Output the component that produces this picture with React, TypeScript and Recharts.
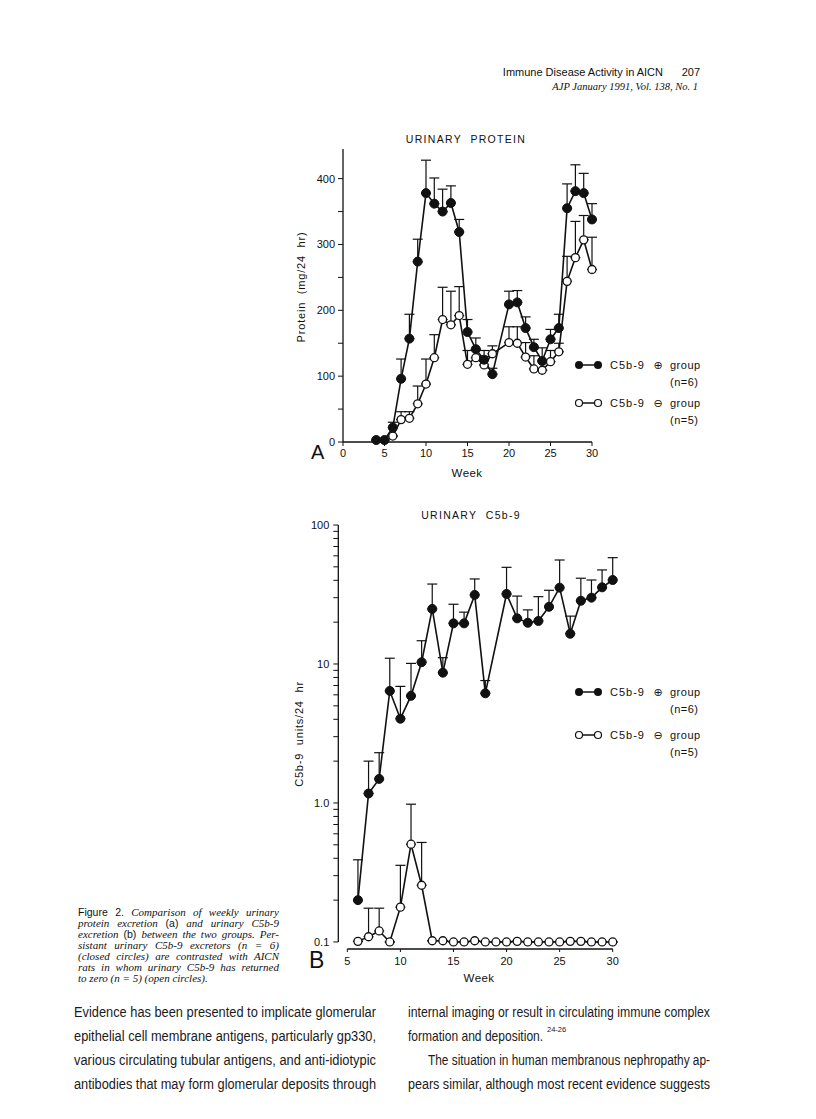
import React from 'react';
import { LineChart, Line, XAxis, YAxis, ErrorBar, ReferenceLine } from 'recharts';

// (A) urinary protein, mg/24 hr — mean and top of the SE bar
const proteinPosWeeks = [4, 5, 6, 7, 8, 9, 10, 11, 12, 13, 14, 15, 16, 17, 18, 20, 21, 22, 23, 24, 25, 26, 27, 28, 29, 30];
const proteinPos = [3, 3, 22, 96, 157, 274, 378, 362, 350, 363, 319, 167, 141, 125, 103, 209, 212, 173, 144, 123, 156, 173, 355, 381, 378, 338];
const proteinPosTop = [3, 3, 30, 126, 194, 308, 428, 401, 384, 389, 338, 186, 158, 139, 112, 229, 230, 190, 156, 143, 171, 194, 392, 421, 408, 362];

const proteinNegWeeks = [6, 7, 8, 9, 10, 11, 12, 13, 14, 15, 16, 17, 18, 20, 21, 22, 23, 24, 25, 26, 27, 28, 29, 30];
const proteinNeg = [9, 34, 36, 58, 88, 128, 186, 178, 192, 118, 128, 117, 134, 151, 150, 129, 111, 109, 122, 137, 244, 280, 307, 262];
const proteinNegTop = [9, 46, 46, 85, 126, 163, 235, 229, 236, 139, 140, 130, 146, 175, 175, 151, 131, 109, 139, 150, 282, 335, 344, 311];

// (B) urinary C5b-9, units/24 hr (log scale)
const c5bPosWeeks = [6, 7, 8, 9, 10, 11, 12, 13, 14, 15, 16, 17, 18, 20, 21, 22, 23, 24, 25, 26, 27, 28, 29, 30];
const c5bPos = [0.2, 1.17, 1.49, 6.4, 4.04, 5.9, 10.3, 24.9, 8.66, 19.6, 19.6, 31.4, 6.15, 31.9, 21.3, 19.8, 20.4, 25.8, 35.4, 16.5, 28.5, 30, 35.6, 40.2];
const c5bPosTop = [0.39, 2.0, 2.3, 11, 6.9, 10.1, 14.7, 37.6, 11.1, 26.9, 23.6, 40.9, 7.6, 49.6, 30.8, 24.5, 30.5, 33.9, 56, 22.1, 41.4, 40.2, 47.5, 58.2];

const c5bNegWeeks = [6, 7, 8, 9, 10, 11, 12, 13, 14, 15, 16, 17, 18, 19, 20, 21, 22, 23, 24, 25, 26, 27, 28, 29, 30];
const c5bNeg = [0.101, 0.109, 0.12, 0.1, 0.178, 0.505, 0.256, 0.102, 0.102, 0.1, 0.1, 0.102, 0.1, 0.1, 0.1, 0.101, 0.1, 0.1, 0.1, 0.1, 0.101, 0.101, 0.1, 0.1, 0.1];
const c5bNegTop = [0.101, 0.175, 0.175, 0.1, 0.356, 0.98, 0.52, 0.102, 0.102, 0.1, 0.1, 0.102, 0.1, 0.1, 0.1, 0.101, 0.1, 0.1, 0.1, 0.1, 0.101, 0.101, 0.1, 0.1, 0.1];

const weekTicksA = [0, 5, 10, 15, 20, 25, 30];
const weekTicksB = [5, 10, 15, 20, 25, 30];
const proteinTicks = [0, 50, 100, 150, 200, 250, 300, 350, 400];
const c5bTicks = [
  0.1, 0.2, 0.3, 0.4, 0.5, 0.6, 0.7, 0.8, 0.9,
  1, 2, 3, 4, 5, 6, 7, 8, 9,
  10, 20, 30, 40, 50, 60, 70, 80, 90, 100,
];
const c5bTickLabels: Record<number, string> = { 0.1: '0.1', 1: '1.0', 10: '10', 100: '100' };

const bodyLeft = [
  'Evidence has been presented to implicate glomerular',
  'epithelial cell membrane antigens, particularly gp330,',
  'various circulating tubular antigens, and anti-idiotypic',
  'antibodies that may form glomerular deposits through',
];

const toRows = (weeks: number[], vals: number[], tops: number[]) =>
  weeks.map((w, i) => ({ week: w, v: vals[i], err: [0, Math.max(0, tops[i] - vals[i])] }));

const INK = '#111';
const SANS = '"Liberation Sans", Arial, Helvetica, sans-serif';
const SERIF = '"Liberation Serif", "Times New Roman", serif';

const tickStyle = { fontSize: 11, fill: INK, fontFamily: SANS };
const closedDot = { r: 4.5, fill: INK, stroke: INK, strokeWidth: 1 };
const openDot = { r: 4, fill: '#fff', stroke: INK, strokeWidth: 1.3 };

type TxtProps = {
  x: number;
  y: number;
  align?: 'left' | 'center' | 'right';
  size?: number;
  rotate?: boolean;
  style?: React.CSSProperties;
  children: React.ReactNode;
};

function Txt({ x, y, align = 'left', size = 11, rotate = false, style, children }: TxtProps) {
  const tx = align === 'center' ? '-50%' : align === 'right' ? '-100%' : '0';
  return (
    <div
      style={{
        position: 'absolute',
        left: x,
        top: y,
        fontSize: size,
        lineHeight: 1,
        whiteSpace: 'nowrap',
        transform: `translate(${tx}, -50%)${rotate ? ' rotate(-90deg)' : ''}`,
        ...style,
      }}
    >
      {children}
    </div>
  );
}

function LegendRow({ y, filled, n }: { y: number; filled: boolean; n: number }) {
  return (
    <>
      <svg style={{ position: 'absolute', left: 572, top: y - 7 }} width={32} height={14}>
        <line x1={7} y1={7} x2={26} y2={7} stroke={INK} strokeWidth={1.5} />
        {filled ? (
          <>
            <circle cx={7} cy={7} r={4} fill={INK} />
            <circle cx={26} cy={7} r={4} fill={INK} />
          </>
        ) : (
          <>
            <circle cx={7} cy={7} r={3.5} fill="#fff" stroke={INK} strokeWidth={1.2} />
            <circle cx={26} cy={7} r={3.5} fill="#fff" stroke={INK} strokeWidth={1.2} />
          </>
        )}
      </svg>
      <Txt x={610} y={y} style={{ letterSpacing: 1 }}>C5b-9</Txt>
      <Txt x={658} y={y} align="center" size={11} style={{ fontFamily: '"DejaVu Sans", sans-serif' }}>
        {filled ? '⊕' : '⊖'}
      </Txt>
      <Txt x={670} y={y} style={{ letterSpacing: 0.5 }}>group</Txt>
      <Txt x={670} y={y + 17} style={{ letterSpacing: 0.5 }}>(n={n})</Txt>
    </>
  );
}

function ProteinChart() {
  const pos = toRows(proteinPosWeeks, proteinPos, proteinPosTop);
  const neg = toRows(proteinNegWeeks, proteinNeg, proteinNegTop);
  return (
    <div style={{ position: 'absolute', left: 250, top: 100 }}>
      <LineChart width={400} height={400} margin={{ top: 49, right: 58, bottom: 28, left: 33 }}>
        <XAxis
          dataKey="week"
          type="number"
          domain={[0, 30]}
          ticks={weekTicksA}
          interval={0}
          height={30}
          tickSize={4}
          tickMargin={3}
          tick={tickStyle}
          axisLine={{ stroke: INK, strokeWidth: 1.3 }}
          tickLine={{ stroke: INK }}
        />
        <YAxis
          type="number"
          domain={[0, 445]}
          ticks={proteinTicks}
          interval={0}
          width={60}
          tickSize={5}
          tickMargin={3}
          tick={tickStyle}
          tickFormatter={(v: number) => (v % 100 === 0 ? String(v) : '')}
          axisLine={{ stroke: INK, strokeWidth: 1.3 }}
          tickLine={{ stroke: INK }}
        />
        <Line data={neg} dataKey="v" stroke={INK} strokeWidth={1.6} dot={openDot} isAnimationActive={false}>
          <ErrorBar dataKey="err" direction="y" width={5} stroke={INK} strokeWidth={1.2} />
        </Line>
        <Line data={pos} dataKey="v" stroke={INK} strokeWidth={1.6} dot={closedDot} isAnimationActive={false}>
          <ErrorBar dataKey="err" direction="y" width={5} stroke={INK} strokeWidth={1.2} />
        </Line>
      </LineChart>
    </div>
  );
}

function C5bChart() {
  const pos = toRows(c5bPosWeeks, c5bPos, c5bPosTop);
  const neg = toRows(c5bNegWeeks, c5bNeg, c5bNegTop);
  const xMin = 4.15;
  const yMin = 0.089;
  return (
    <div style={{ position: 'absolute', left: 250, top: 480 }}>
      <LineChart width={420} height={520} margin={{ top: 45, right: 57.3, bottom: 21, left: 28.3 }}>
        <XAxis
          dataKey="week"
          type="number"
          domain={[xMin, 30]}
          ticks={weekTicksB}
          interval={0}
          height={30}
          tickSize={3}
          tickMargin={5}
          tick={tickStyle}
          axisLine={false}
          tickLine={{ stroke: INK }}
        />
        <YAxis
          type="number"
          scale="log"
          domain={[yMin, 100]}
          ticks={c5bTicks}
          interval={0}
          width={60}
          tickSize={5}
          tickMargin={4}
          tick={tickStyle}
          tickFormatter={(v: number) => c5bTickLabels[v] ?? ''}
          axisLine={false}
          tickLine={{ stroke: INK }}
        />
        <ReferenceLine
          segment={[{ x: xMin, y: 0.1 }, { x: xMin, y: 100 }]}
          stroke={INK}
          strokeWidth={1.3}
          ifOverflow="visible"
        />
        <ReferenceLine
          segment={[{ x: 5, y: yMin }, { x: 30, y: yMin }]}
          stroke={INK}
          strokeWidth={1.3}
          ifOverflow="visible"
        />
        <Line data={neg} dataKey="v" stroke={INK} strokeWidth={1.6} dot={openDot} isAnimationActive={false}>
          <ErrorBar dataKey="err" direction="y" width={5} stroke={INK} strokeWidth={1.2} />
        </Line>
        <Line data={pos} dataKey="v" stroke={INK} strokeWidth={1.6} dot={closedDot} isAnimationActive={false}>
          <ErrorBar dataKey="err" direction="y" width={5} stroke={INK} strokeWidth={1.2} />
        </Line>
      </LineChart>
    </div>
  );
}

const capLine: React.CSSProperties = {
  height: 11,
  lineHeight: '11px',
  textAlign: 'justify',
  textAlignLast: 'justify',
};

function Caption() {
  const sans: React.CSSProperties = { fontFamily: SANS, fontStyle: 'normal', fontSize: 10.5 };
  return (
    <div
      style={{
        position: 'absolute',
        left: 78,
        top: 907,
        width: 201,
        fontFamily: SERIF,
        fontStyle: 'italic',
        fontSize: 11,
        color: INK,
      }}
    >
      <div style={capLine}>
        <span style={sans}>Figure 2.</span> Comparison of weekly urinary
      </div>
      <div style={capLine}>
        protein excretion <span style={sans}>(a)</span> and urinary C5b-9
      </div>
      <div style={capLine}>
        excretion <span style={sans}>(b)</span> between the two groups. Per-
      </div>
      <div style={capLine}>sistant urinary C5b-9 excretors (n = 6)</div>
      <div style={capLine}>(closed circles) are contrasted with AICN</div>
      <div style={capLine}>rats in whom urinary C5b-9 has returned</div>
      <div style={{ ...capLine, textAlign: 'left', textAlignLast: 'left' }}>
        to zero (n = 5) (open circles).
      </div>
    </div>
  );
}

function BodyText() {
  const base = [1016.5, 1040.7, 1065.3, 1089];
  const t = { fontFamily: SANS, fontSize: 14, fill: '#1a1a1a' };
  return (
    <svg style={{ position: 'absolute', left: 0, top: 0 }} width={816} height={1119}>
      {bodyLeft.map((s, i) => (
        <text key={i} x={74} y={base[i]} textLength={302} lengthAdjust="spacingAndGlyphs" {...t}>
          {s}
        </text>
      ))}
      <text x={408} y={base[0]} textLength={302} lengthAdjust="spacingAndGlyphs" {...t}>
        internal imaging or result in circulating immune complex
      </text>
      <text transform={`translate(408 ${base[1]}) scale(0.86 1)`} x={0} y={0} {...t}>
        formation and deposition.
      </text>
      <text x={547} y={base[1] - 9} fontFamily={SANS} fontSize={7.5} fill="#1a1a1a">
        24-26
      </text>
      <text x={428} y={base[2]} textLength={282} lengthAdjust="spacingAndGlyphs" {...t}>
        The situation in human membranous nephropathy ap-
      </text>
      <text x={408} y={base[3]} textLength={302} lengthAdjust="spacingAndGlyphs" {...t}>
        pears similar, although most recent evidence suggests
      </text>
    </svg>
  );
}

export default function App() {
  return (
    <div
      style={{
        position: 'absolute',
        left: 0,
        top: 0,
        width: 816,
        height: 1119,
        background: '#fff',
        overflow: 'hidden',
        fontFamily: SANS,
        color: INK,
      }}
    >
      {/* running head */}
      <Txt x={663} y={72} align="right" size={11}>Immune Disease Activity in AICN</Txt>
      <Txt x={700} y={72} align="right" size={11}>207</Txt>
      <Txt x={698} y={87} align="right" size={10.5} style={{ fontFamily: SERIF, fontStyle: 'italic' }}>
        AJP January 1991, Vol. 138, No. 1
      </Txt>

      <ProteinChart />
      <C5bChart />

      {/* panel A texts */}
      <Txt x={466} y={139} align="center" size={10.5} style={{ letterSpacing: 1.3 }}>URINARY&nbsp; PROTEIN</Txt>
      <Txt x={301} y={287} align="center" size={11} rotate style={{ letterSpacing: 0.8 }}>
        Protein&nbsp; (mg/24&nbsp; hr)
      </Txt>
      <Txt x={467} y={474} align="center" size={11.5} style={{ letterSpacing: 0.4 }}>Week</Txt>
      <Txt x={311} y={452} size={20}>A</Txt>
      <LegendRow y={365} filled n={6} />
      <LegendRow y={403} filled={false} n={5} />

      {/* panel B texts */}
      <Txt x={471} y={515} align="center" size={10.5} style={{ letterSpacing: 1.3 }}>URINARY&nbsp; C5b-9</Txt>
      <Txt x={299} y={734} align="center" size={11} rotate style={{ letterSpacing: 0.8 }}>
        C5b-9&nbsp; units/24&nbsp; hr
      </Txt>
      <Txt x={479} y={979} align="center" size={11.5} style={{ letterSpacing: 0.4 }}>Week</Txt>
      <Txt x={309} y={960} size={23}>B</Txt>
      <LegendRow y={692} filled n={6} />
      <LegendRow y={735} filled={false} n={5} />

      <Caption />
      <BodyText />
    </div>
  );
}
